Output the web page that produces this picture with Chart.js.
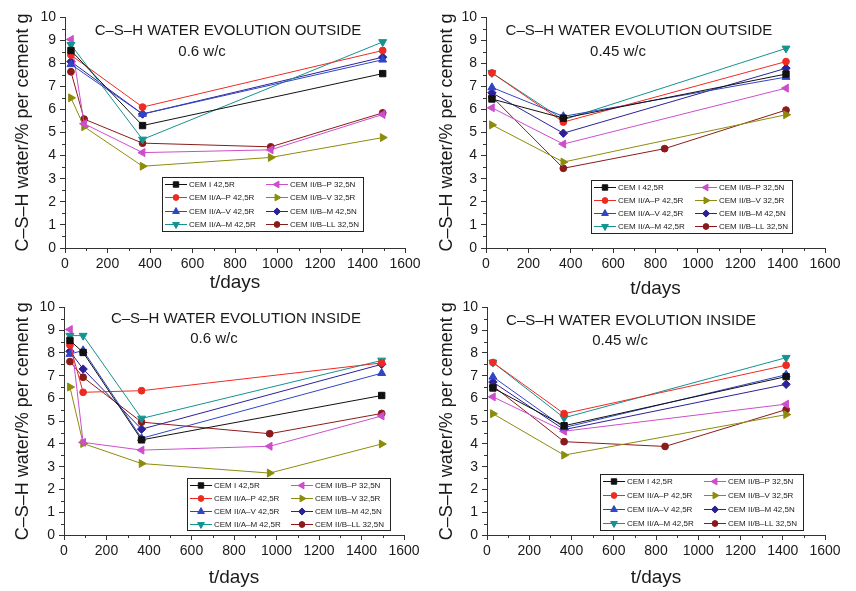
<!DOCTYPE html>
<html>
<head>
<meta charset="utf-8">
<script src="https://cdn.jsdelivr.net/npm/chart.js@4.4.1/dist/chart.umd.min.js"></script>
<style>
  html, body { margin: 0; padding: 0; background: #fff; }
  #wrap { position: relative; width: 856px; height: 591px; overflow: hidden; }
  #wrap canvas { position: absolute; }
</style>
</head>
<body>
<div id="wrap">
  <canvas id="c1" width="428" height="300" style="left:0;top:0"></canvas>
  <canvas id="c2" width="428" height="300" style="left:428px;top:0"></canvas>
  <canvas id="c3" width="428" height="296" style="left:0;top:295px"></canvas>
  <canvas id="c4" width="428" height="296" style="left:428px;top:295px"></canvas>
</div>
<script>
// ---------------------------------------------
// data
// ---------------------------------------------
const SERIES_NAMES = [
  'CEM I 42,5R', 'CEM II/A–P 42,5R', 'CEM II/A–V 42,5R', 'CEM II/A–M 42,5R',
  'CEM II/B–P 32,5N', 'CEM II/B–V 32,5R', 'CEM II/B–M 42,5N', 'CEM II/B–LL 32,5N'
]

// age of the samples (days)
const DAYS_06 = [28, 90, 365, 968, 1495]
const DAYS_045 = [28, 365, 843, 1416]

// rows follow SERIES_NAMES, null = not measured
const outside06 = [
  [8.55, null, 5.3, null, 7.55],
  [8.35, null, 6.1, null, 8.55],
  [7.95, null, 5.8, null, 8.15],
  [8.8, null, 4.7, null, 8.92],
  [9.03, 5.38, 4.13, 4.25, 5.78],
  [6.5, 5.25, 3.54, 3.92, 4.78],
  [8.07, null, 5.8, null, 8.26],
  [7.63, 5.58, 4.54, 4.38, 5.85],
]
const outside045 = [
  [6.45, 5.62, null, 7.53],
  [7.58, 5.45, null, 8.07],
  [6.95, 5.7, null, 7.4],
  [7.58, 5.55, null, 8.64],
  [6.07, 4.5, null, 6.92],
  [5.33, 3.72, null, 5.77],
  [6.72, 4.97, null, 7.78],
  [6.55, 3.45, 4.3, 5.97],
]
const inside06 = [
  [8.55, 8.02, 4.18, null, 6.13],
  [8.34, 6.27, 6.34, null, 7.56],
  [7.95, 8.11, 4.25, null, 7.11],
  [8.76, 8.76, 5.12, null, 7.67],
  [9.03, 4.07, 3.73, 3.9, 5.23],
  [6.5, 4.02, 3.14, 2.72, 4.0],
  [8.07, 7.29, 4.65, null, 7.5],
  [7.62, 6.93, 4.96, 4.45, 5.34],
]
const inside045 = [
  [6.46, 4.8, null, 6.96],
  [7.58, 5.33, null, 7.46],
  [6.95, 4.72, null, 7.04],
  [7.58, 5.15, null, 7.79],
  [6.07, 4.56, null, 5.75],
  [5.33, 3.51, null, 5.29],
  [6.72, 4.63, null, 6.62],
  [6.55, 4.1, 3.89, 5.51],
]

const X_TICKS = [0, 200, 400, 600, 800, 1000, 1200, 1400, 1600]
const Y_TICKS = [0, 1, 2, 3, 4, 5, 6, 7, 8, 9, 10]

// ---------------------------------------------
// styles
// ---------------------------------------------
const COLORS = ['#111111', '#ee2b22', '#3045c6', '#14938f', '#cc4ecc', '#8c8c0c', '#2c2196', '#8b1b1b']
const POINT_STYLE = ['rect', 'circle', 'triangle', 'triangle', 'triangle', 'triangle', 'rectRot', 'circle']
const POINT_ROT = [0, 0, 0, 180, -90, 90, 0, 0]
const POINT_R = [4.5, 3.4, 4.6, 4.6, 4.6, 4.6, 4.2, 3.4]
const FONT = "'Liberation Sans', Arial, Helvetica, sans-serif"
const TEXT = '#1a1a1a'
const AXIS = '#333333'

// ---------------------------------------------
// plugin: minor ticks, headings, legend box
// ---------------------------------------------
const panelDecor = {
  id: 'panelDecor',
  afterDraw(chart, args, opts) {
    const { ctx } = chart
    const x = chart.scales.x, y = chart.scales.y
    ctx.save()

    // minor ticks
    ctx.strokeStyle = AXIS
    ctx.lineWidth = 1
    ctx.beginPath()
    for (let v = 100; v < 1600; v += 200) {
      const px = Math.round(x.getPixelForValue(v)) + 0.5
      ctx.moveTo(px, y.bottom); ctx.lineTo(px, y.bottom + 3)
    }
    for (let v = 0.5; v < 10; v += 1) {
      const py = Math.round(y.getPixelForValue(v)) + 0.5
      ctx.moveTo(x.left - 3, py); ctx.lineTo(x.left, py)
    }
    ctx.stroke()

    // headings
    ctx.fillStyle = TEXT
    ctx.font = `15px ${FONT}`
    ctx.textAlign = 'center'
    ctx.textBaseline = 'middle'
    opts.headings.forEach(h => {
      ctx.fillText(h.text, x.getPixelForValue(h.at[0]), y.getPixelForValue(h.at[1]))
    })

    // legend
    const L = opts.legend
    ctx.fillStyle = '#fff'
    ctx.fillRect(L.x, L.y, L.w, L.h)
    ctx.strokeStyle = '#222'
    ctx.strokeRect(L.x + 0.5, L.y + 0.5, L.w, L.h)
    const rowH = L.h / 4
    ctx.font = `8px ${FONT}`
    ctx.textAlign = 'left'
    chart.data.datasets.forEach((ds, i) => {
      const col = Math.floor(i / 4), row = i % 4
      const x0 = L.x + 3 + col * 101
      const yc = Math.round(L.y + rowH * (row + 0.5)) + 0.5
      ctx.strokeStyle = ds.borderColor
      ctx.lineWidth = 1
      ctx.beginPath(); ctx.moveTo(x0, yc); ctx.lineTo(x0 + 22, yc); ctx.stroke()
      ctx.fillStyle = ds.backgroundColor
      Chart.helpers.drawPoint(ctx, {
        pointStyle: ds.pointStyle, rotation: ds.pointRotation, radius: ds.pointRadius * 0.85, borderWidth: 1
      }, x0 + 11, yc)
      ctx.fillStyle = TEXT
      ctx.fillText(ds.label, x0 + 24, yc + 0.5)
    })
    ctx.restore()
  }
}

// ---------------------------------------------
// panel builder
// ---------------------------------------------
function makePanel(id, days, values, p) {
  const datasets = SERIES_NAMES.map((name, i) => ({
    label: name,
    data: days.map((d, j) => ({ x: d, y: values[i][j] })).filter(pt => pt.y != null),
    borderColor: COLORS[i],
    backgroundColor: COLORS[i],
    pointStyle: POINT_STYLE[i],
    pointRotation: POINT_ROT[i],
    pointRadius: POINT_R[i],
    pointBorderWidth: 1,
    borderWidth: 1,
    tension: 0,
  }))

  return new Chart(document.getElementById(id), {
    type: 'line',
    data: { datasets },
    options: {
      responsive: false,
      animation: false,
      devicePixelRatio: 1,
      layout: { padding: { top: p.top, right: p.right, left: 0, bottom: p.bottom } },
      plugins: {
        legend: { display: false },
        tooltip: { enabled: false },
        panelDecor: { headings: p.headings, legend: p.legend },
      },
      scales: {
        x: {
          type: 'linear', min: 0, max: 1600,
          afterBuildTicks: s => { s.ticks = X_TICKS.map(v => ({ value: v })) },
          afterFit: s => { s.height = p.xh },
          ticks: { color: TEXT, font: { family: FONT, size: 14 }, padding: 3, maxRotation: 0, autoSkip: false, callback: v => String(v) },
          grid: { drawOnChartArea: false, tickLength: 5, color: AXIS },
          border: { color: AXIS, width: 1 },
          title: { display: true, text: 't/days', color: TEXT, font: { family: FONT, size: 19 }, padding: { top: 0, bottom: p.xtPad } },
        },
        y: {
          type: 'linear', min: 0, max: 10,
          afterBuildTicks: s => { s.ticks = Y_TICKS.map(v => ({ value: v })) },
          afterFit: s => { s.width = p.yw },
          ticks: { color: TEXT, font: { family: FONT, size: 14 }, padding: 4, autoSkip: false, callback: v => String(v) },
          grid: { drawOnChartArea: false, tickLength: 5, color: AXIS },
          border: { color: AXIS, width: 1 },
          title: { display: true, text: 'C–S–H water/% per cement g', color: TEXT, font: { family: FONT, size: 18 }, padding: { top: p.ytPad, bottom: 0 } },
        }
      }
    },
    plugins: [panelDecor]
  })
}

makePanel('c1', DAYS_06, outside06, {
  top: 17, right: 23, bottom: 5, xh: 47, yw: 65, xtPad: 1, ytPad: 12,
  headings: [{ text: 'C–S–H WATER EVOLUTION OUTSIDE', at: [767, 9.4] }, { text: '0.6 w/c', at: [645, 8.5] }],
  legend: { x: 162, y: 177, w: 201, h: 54 },
})
makePanel('c2', DAYS_045, outside045, {
  top: 17, right: 31, bottom: 0, xh: 52, yw: 58, xtPad: 0, ytPad: 8,
  headings: [{ text: 'C–S–H WATER EVOLUTION OUTSIDE', at: [722, 9.4] }, { text: '0.45 w/c', at: [623, 8.5] }],
  legend: { x: 163, y: 180, w: 201, h: 53 },
})
makePanel('c3', DAYS_06, inside06, {
  top: 10, right: 24, bottom: 0, xh: 56, yw: 64, xtPad: 2, ytPad: 12,
  headings: [{ text: 'C–S–H WATER EVOLUTION INSIDE', at: [809, 9.5] }, { text: '0.6 w/c', at: [706, 8.6] }],
  legend: { x: 187, y: 183, w: 203, h: 52 },
})
makePanel('c4', DAYS_045, inside045, {
  top: 10, right: 31, bottom: 0, xh: 56, yw: 59, xtPad: 2, ytPad: 8,
  headings: [{ text: 'C–S–H WATER EVOLUTION INSIDE', at: [682, 9.4] }, { text: '0.45 w/c', at: [630, 8.55] }],
  legend: { x: 172, y: 179, w: 203, h: 56 },
})
</script>
</body>
</html>
